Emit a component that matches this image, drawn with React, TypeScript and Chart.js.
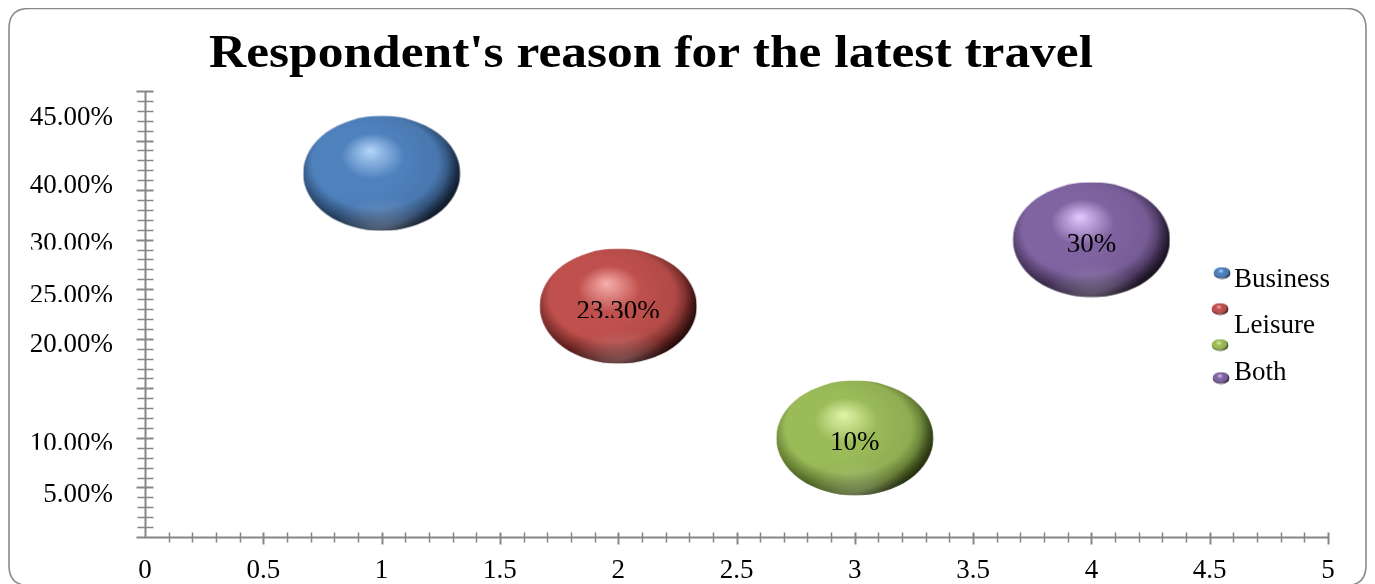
import React, { useEffect, useRef } from "react";
import { Chart, registerables } from "chart.js";

Chart.register(...registerables);

// ---- data ----
const chartTitle = "Respondent's reason for the latest travel";
const seriesNames = ["Business", "Leisure", "", "Both"];
const xValues = [1, 2, 3, 4];
const yValues = [36.7, 23.3, 10, 30];
const bubbleRadius = [30, 30, 30, 30];
const dataLabels = ["", "23.30%", "10%", "30%"];
const legendTexts = ["Business", "Leisure", "Both"];
const yTickLabels = ["45.00%", "40.00%", "30.00%", "25.00%", "20.00%", "10.00%", "5.00%"];
const yLabelAt = [41.6, 34.7, 28.9, 23.6, 18.7, 8.7, 3.5];
const yLabelCut = [false, false, true, true, false, true, false];
const xTickValues = [0, 0.5, 1, 1.5, 2, 2.5, 3, 3.5, 4, 4.5, 5];
const xTickLabels = ["0", "0.5", "1", "1.5", "2", "2.5", "3", "3.5", "4", "4.5", "5"];

// ---- styles ----
const palettes = [
  { base: "#4f81bd", light: "#b4d6fb", dark: "#16273f" },
  { base: "#c0504d", light: "#f7b0ae", dark: "#3c0d0c" },
  { base: "#9bbb59", light: "#e2f5a8", dark: "#3a4f12" },
  { base: "#8064a2", light: "#e2c9ff", dark: "#23162f" },
];
const AXIS = "#868686";
const SERIF = "'Liberation Serif', serif";
const W = 1359;
const H = 580;

function makeBall(w: number, h: number, p: { base: string; light: string; dark: string }) {
  const c = document.createElement("canvas");
  c.width = w;
  c.height = h;
  const ctx = c.getContext("2d")!;
  ctx.save();
  ctx.translate(w / 2, h / 2);
  ctx.scale(w / 2 - 0.5, h / 2 - 0.5);
  ctx.beginPath();
  ctx.arc(0, 0, 1, 0, Math.PI * 2);
  ctx.closePath();
  ctx.clip();
  const g = ctx.createRadialGradient(-0.15, -0.4, 0, -0.05, -0.1, 1.15);
  g.addColorStop(0, p.light);
  g.addColorStop(0.35, p.base);
  g.addColorStop(0.7, p.base);
  g.addColorStop(1, p.dark);
  ctx.fillStyle = g;
  ctx.fillRect(-1, -1, 2, 2);
  // lower reflection band
  const r = ctx.createRadialGradient(0.05, 1.15, 0, 0.05, 1.15, 0.75);
  r.addColorStop(0, "rgba(255,255,255,0.35)");
  r.addColorStop(0.6, "rgba(255,255,255,0.12)");
  r.addColorStop(1, "rgba(255,255,255,0)");
  ctx.fillStyle = r;
  ctx.fillRect(-1, -1, 2, 2);
  // right edge darkening
  const e = ctx.createRadialGradient(-0.35, -0.2, 0.6, -0.35, -0.2, 1.45);
  e.addColorStop(0, "rgba(0,0,0,0)");
  e.addColorStop(0.7, "rgba(0,0,0,0.1)");
  e.addColorStop(1, "rgba(0,0,0,0.65)");
  ctx.fillStyle = e;
  ctx.fillRect(-1, -1, 2, 2);
  ctx.restore();
  return c;
}

function roundRect(ctx: CanvasRenderingContext2D, x: number, y: number, w: number, h: number, r: number) {
  ctx.beginPath();
  ctx.moveTo(x + r, y);
  ctx.lineTo(x + w - r, y);
  ctx.quadraticCurveTo(x + w, y, x + w, y + r);
  ctx.lineTo(x + w, y + h - r);
  ctx.quadraticCurveTo(x + w, y + h, x + w - r, y + h);
  ctx.lineTo(x + r, y + h);
  ctx.quadraticCurveTo(x, y + h, x, y + h - r);
  ctx.lineTo(x, y + r);
  ctx.quadraticCurveTo(x, y, x + r, y);
  ctx.closePath();
}

export default function App() {
  const ref = useRef<HTMLCanvasElement>(null);

  useEffect(() => {
    document.body.style.overflow = "hidden";
    const canvas = ref.current!;
    const balls = palettes.map((p) => makeBall(158, 116, p));
    const legendBalls = palettes.map((p) => makeBall(18, 13, p));

    const decor = {
      id: "decor",
      beforeDraw(chart: any) {
        const ctx = chart.ctx as CanvasRenderingContext2D;
        ctx.save();
        ctx.fillStyle = "#ffffff";
        ctx.fillRect(0, 0, W, H);
        roundRect(ctx, 1, 0.5, W - 2, H - 3, 20);
        ctx.strokeStyle = "#8a8a8a";
        ctx.lineWidth = 1.6;
        ctx.stroke();
        // title
        ctx.fillStyle = "#000";
        ctx.font = "bold 47px " + SERIF;
        ctx.textBaseline = "alphabetic";
        const tw = ctx.measureText(chartTitle).width;
        const target = 884;
        ctx.translate(643, 59);
        ctx.scale(target / tw, 1);
        ctx.textAlign = "center";
        ctx.fillText(chartTitle, 0, 0);
        ctx.restore();
      },
      beforeDatasetsDraw(chart: any) {
        const ctx = chart.ctx as CanvasRenderingContext2D;
        const xs = chart.scales.x;
        const ys = chart.scales.y;
        const x0 = Math.round(xs.getPixelForValue(0)) + 0.5;
        const y0 = Math.round(ys.getPixelForValue(0)) + 0.5;
        ctx.save();
        ctx.strokeStyle = AXIS;
        // y axis
        ctx.lineWidth = 2;
        ctx.beginPath();
        ctx.moveTo(x0, ys.getPixelForValue(45));
        ctx.lineTo(x0, y0);
        ctx.stroke();
        for (let v = 1; v <= 45; v++) {
          const y = Math.round(ys.getPixelForValue(v)) + 0.5;
          ctx.lineWidth = v % 5 === 0 ? 2 : 1.5;
          ctx.beginPath();
          ctx.moveTo(x0 - (v % 5 === 0 ? 9 : 8), y);
          ctx.lineTo(x0 + 8, y);
          ctx.stroke();
        }
        // x axis
        ctx.lineWidth = 2;
        ctx.beginPath();
        ctx.moveTo(x0 - 9, y0);
        ctx.lineTo(xs.getPixelForValue(5), y0);
        ctx.stroke();
        for (let i = 1; i <= 50; i++) {
          const x = Math.round(xs.getPixelForValue(i / 10)) + 0.5;
          const major = i % 5 === 0;
          ctx.lineWidth = major ? 2 : 1.5;
          ctx.beginPath();
          ctx.moveTo(x, y0 - 5);
          ctx.lineTo(x, y0 + (major ? 7 : 5));
          ctx.stroke();
        }
        // labels
        ctx.fillStyle = "#000";
        ctx.font = "27px " + SERIF;
        ctx.textBaseline = "alphabetic";
        ctx.textAlign = "right";
        yTickLabels.forEach((t, i) => {
          const by = ys.getPixelForValue(yLabelAt[i]);
          ctx.save();
          if (yLabelCut[i]) {
            ctx.beginPath();
            ctx.rect(0, by - 40, 130, 39);
            ctx.clip();
          }
          ctx.fillText(t, 105, by);
          ctx.restore();
        });
        ctx.textAlign = "center";
        xTickValues.forEach((v, i) => {
          ctx.fillText(xTickLabels[i], xs.getPixelForValue(v), 570);
        });
        ctx.restore();
      },
      afterDatasetsDraw(chart: any) {
        const ctx = chart.ctx as CanvasRenderingContext2D;
        ctx.save();
        ctx.fillStyle = "#000";
        ctx.font = "27px " + SERIF;
        ctx.textAlign = "center";
        ctx.textBaseline = "alphabetic";
        chart.data.datasets.forEach((ds: any, i: number) => {
          const el = chart.getDatasetMeta(i).data[0];
          if (!el || !dataLabels[i]) return;
          const by = el.y + 12.5;
          ctx.save();
          ctx.beginPath();
          ctx.rect(el.x - 80, by - 40, 160, 39.5);
          ctx.clip();
          ctx.fillText(dataLabels[i], el.x, by);
          ctx.restore();
        });
        // legend
        const markers = [
          [1214, 265],
          [1212, 301],
          [1212, 337],
          [1213, 370],
        ];
        markers.forEach(([mx, my], i) => {
          const b = legendBalls[i];
          ctx.drawImage(b, mx - b.width / 2, my - b.height / 2);
        });
        ctx.textAlign = "left";
        const textY = [279, 325, 372];
        legendTexts.forEach((t, i) => ctx.fillText(t, 1226, textY[i]));
        ctx.restore();
      },
    };

    const chart = new Chart(canvas, {
      type: "bubble",
      data: {
        datasets: xValues.map((x, i) => ({
          label: seriesNames[i],
          data: [{ x, y: yValues[i], r: bubbleRadius[i] }],
          pointStyle: balls[i] as any,
          backgroundColor: palettes[i].base,
          borderWidth: 0,
        })),
      },
      options: {
        responsive: false,
        animation: false,
        events: [],
        devicePixelRatio: 1,
        layout: { padding: { left: 137, right: 39, top: 83, bottom: 51 } },
        scales: {
          x: { type: "linear", display: false, min: 0, max: 5 },
          y: { type: "linear", display: false, min: 0, max: 45 },
        },
        plugins: {
          legend: { display: false },
          title: { display: false },
          tooltip: { enabled: false },
        },
      },
      plugins: [decor as any],
    });
    return () => chart.destroy();
  }, []);

  return <canvas ref={ref} width={W} height={H} style={{ display: "block", width: W, height: H }} />;
}
